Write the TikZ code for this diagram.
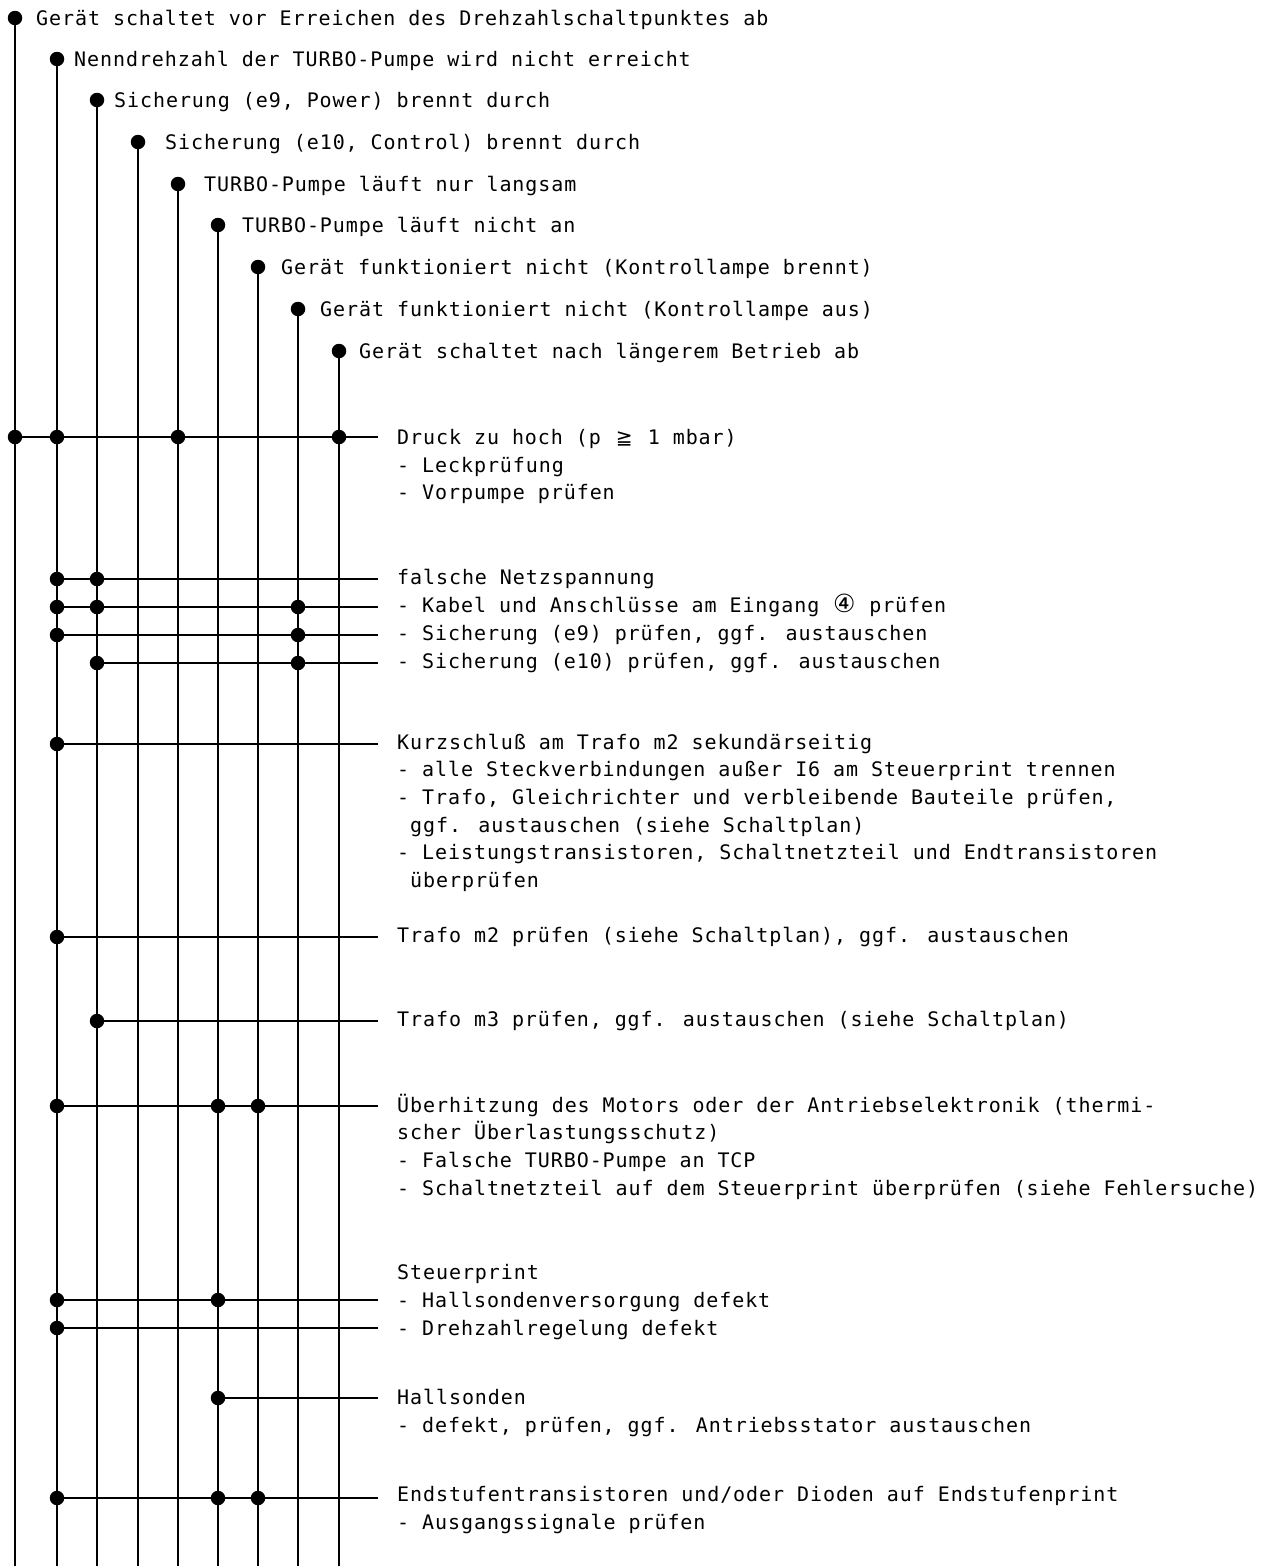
\documentclass[tikz,border=0pt]{standalone}
\usepackage{fontspec}
\newfontfamily\dmono{DejaVu Sans Mono}[LetterSpace=4.6]
\newfontfamily\dsym{DejaVu Sans}
\newcommand\gqsym{\makebox[21pt]{\dsym\fontsize{20}{20}\selectfont ≧}}
\newcommand\cfoursym{\makebox[24pt]{\dsym\fontsize{25}{25}\selectfont ④}}
\begin{document}
\begin{tikzpicture}[x=1pt,y=-1pt,
  font=\dmono\fontsize{20}{24}\selectfont,
  dot/.style={circle,fill=black,inner sep=0pt,minimum size=14.5pt},
  wire/.style={line width=2pt},
  lbl/.style={anchor=base west,inner sep=0pt}]
\useasboundingbox (0,0) rectangle (1261,1566);
% top dots (fault symptoms)
\node[dot] (t1) at (15,18) {};
\node[dot] (t2) at (57,59) {};
\node[dot] (t3) at (97,100) {};
\node[dot] (t4) at (138,142) {};
\node[dot] (t5) at (178,184) {};
\node[dot] (t6) at (218,225) {};
\node[dot] (t7) at (258,267) {};
\node[dot] (t8) at (298,309) {};
\node[dot] (t9) at (339,351) {};
\foreach \i/\x in {1/15,2/57,3/97,4/138,5/178,6/218,7/258,8/298,9/339}
  \coordinate (b\i) at (\x,1566);
\foreach \i in {1,...,9}
  \draw[wire] (t\i.center) -- (b\i);
% top labels
\node[lbl] (l1) at (36,25) {Gerät schaltet vor Erreichen des Drehzahlschaltpunktes ab};
\node[lbl] (l2) at (74,66) {Nenndrehzahl der TURBO-Pumpe wird nicht erreicht};
\node[lbl] (l3) at (114,107) {Sicherung (e9, Power) brennt durch};
\node[lbl] (l4) at (165,149) {Sicherung (e10, Control) brennt durch};
\node[lbl] (l5) at (204,191) {TURBO-Pumpe läuft nur langsam};
\node[lbl] (l6) at (242,232) {TURBO-Pumpe läuft nicht an};
\node[lbl] (l7) at (281,274) {Gerät funktioniert nicht (Kontrollampe brennt)};
\node[lbl] (l8) at (320,316) {Gerät funktioniert nicht (Kontrollampe aus)};
\node[lbl] (l9) at (359,358) {Gerät schaltet nach längerem Betrieb ab};
% rows: name / y / dot x-list
\foreach \r/\y/\xs in {1/437/{15,57,178,339},2/579/{57,97},3/607/{57,97,298},
  4/635/{57,298},5/663/{97,298},6/744/{57},7/937/{57},8/1021/{97},
  9/1106/{57,218,258},10/1300/{57,218},11/1328/{57},12/1398/{218},
  13/1498/{57,218,258}}{
  \foreach \x [count=\k] in \xs {
    \node[dot] (r\r-\k) at (\x,\y) {};
  }
  \coordinate (e\r) at (378,\y);
  \draw[wire] (r\r-1.center) -- (e\r);
}
% right-hand texts
\node[lbl] (a1) at (397,444) {Druck zu hoch (p \gqsym{} 1 mbar)};
\node[lbl] (a2) at (397,472) {- Leckprüfung};
\node[lbl] (a3) at (397,499) {- Vorpumpe prüfen};
\node[lbl] (c1) at (397,584) {falsche Netzspannung};
\node[lbl] (c2) at (397,612) {- Kabel und Anschlüsse am Eingang \cfoursym{} prüfen};
\node[lbl] (c3) at (397,640) {- Sicherung (e9) prüfen, ggf. austauschen};
\node[lbl] (c4) at (397,668) {- Sicherung (e10) prüfen, ggf. austauschen};
\node[lbl] (d1) at (397,749) {Kurzschluß am Trafo m2 sekundärseitig};
\node[lbl] (d2) at (397,776) {- alle Steckverbindungen außer I6 am Steuerprint trennen};
\node[lbl] (d3) at (397,804) {- Trafo, Gleichrichter und verbleibende Bauteile prüfen,};
\node[lbl] (d4) at (410,832) {ggf. austauschen (siehe Schaltplan)};
\node[lbl] (d5) at (397,859) {- Leistungstransistoren, Schaltnetzteil und Endtransistoren};
\node[lbl] (d6) at (410,887) {überprüfen};
\node[lbl] (f1) at (397,942) {Trafo m2 prüfen (siehe Schaltplan), ggf. austauschen};
\node[lbl] (g1) at (397,1026) {Trafo m3 prüfen, ggf. austauschen (siehe Schaltplan)};
\node[lbl] (h1) at (397,1112) {Überhitzung des Motors oder der Antriebselektronik (thermi-};
\node[lbl] (h2) at (397,1139) {scher Überlastungsschutz)};
\node[lbl] (h3) at (397,1167) {- Falsche TURBO-Pumpe an TCP};
\node[lbl] (h4) at (397,1195) {- Schaltnetzteil auf dem Steuerprint überprüfen (siehe Fehlersuche)};
\node[lbl] (s1) at (397,1279) {Steuerprint};
\node[lbl] (s2) at (397,1307) {- Hallsondenversorgung defekt};
\node[lbl] (s3) at (397,1335) {- Drehzahlregelung defekt};
\node[lbl] (k1) at (397,1404) {Hallsonden};
\node[lbl] (k2) at (397,1432) {- defekt, prüfen, ggf. Antriebsstator austauschen};
\node[lbl] (m1) at (397,1501) {Endstufentransistoren und/oder Dioden auf Endstufenprint};
\node[lbl] (m2) at (397,1529) {- Ausgangssignale prüfen};
\end{tikzpicture}
\end{document}
